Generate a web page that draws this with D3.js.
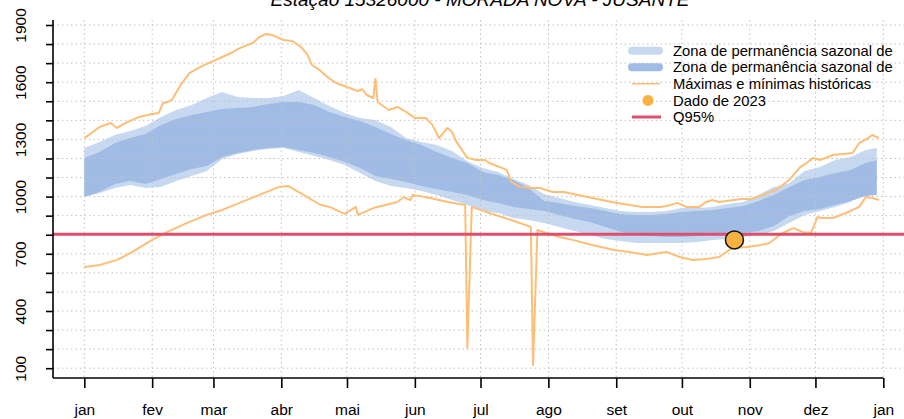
<!DOCTYPE html>
<html lang="pt">
<head>
<meta charset="UTF-8">
<title>Estação 15326000 - MORADA NOVA - JUSANTE</title>
<script src="https://cdn.jsdelivr.net/npm/d3@7"></script>
<style>
  body { margin: 0; background: #fff; }
  svg { display: block; font-family: "Liberation Sans", Arial, sans-serif; }
  .grid line { stroke: #c2c2c2; stroke-dasharray: 1.5,3; stroke-width: 1; }
  .axis path { display: none; }
  .axis line { stroke: #000; stroke-width: 1.6; }
  .axis text { font-size: 15.5px; fill: #000; font-family: "Liberation Sans", Arial, sans-serif; }
</style>
</head>
<body>
<div id="chart"></div>
<script>
// months on the x axis (day of year)
const monthDays = [0, 31, 59, 90, 120, 151, 181, 212, 243, 273, 304, 334, 365];
const monthLabels = ["jan", "fev", "mar", "abr", "mai", "jun", "jul", "ago", "set", "out", "nov", "dez", "jan"];

// y ticks, every 100 but labelled every 300
const yTicks = [100, 200, 300, 400, 500, 600, 700, 800, 900, 1000, 1100, 1200, 1300, 1400, 1500, 1600, 1700, 1800, 1900];
const yLabelled = [100, 400, 700, 1000, 1300, 1600, 1900];

// seasonal permanence bands (m3/s)
const bandDays = [0,7,14,21,28,35,42,49,56,63,70,77,84,91,98,105,112,119,126,133,140,147,154,161,168,175,182,189,196,203,210,217,224,231,238,245,252,259,266,273,280,287,294,301,308,315,322,329,336,343,350,357,362];
const outerHi = [1255,1287,1323,1344,1370,1418,1454,1481,1517,1549,1522,1517,1517,1528,1559,1517,1475,1439,1412,1402,1365,1307,1287,1271,1239,1185,1150,1129,1092,1061,1014,993,972,956,940,925,919,919,925,940,940,946,961,972,1009,1051,1070,1134,1155,1192,1208,1245,1255];
const innerHi = [1203,1234,1281,1307,1328,1376,1407,1428,1444,1460,1465,1470,1486,1496,1496,1481,1444,1418,1397,1365,1328,1297,1271,1234,1203,1176,1129,1113,1087,1045,977,967,951,940,925,909,904,904,909,919,925,930,940,951,977,1009,1051,1087,1103,1124,1140,1176,1192];
const innerLo = [998,1024,1066,1082,1066,1092,1119,1145,1161,1208,1229,1245,1255,1260,1245,1229,1208,1182,1150,1108,1092,1077,1056,1040,1024,1009,982,967,946,935,925,904,883,867,841,815,799,794,788,788,794,799,799,809,820,846,898,925,935,956,977,1003,1009];
const outerLo = [998,1019,1045,1061,1045,1051,1082,1108,1134,1197,1224,1239,1250,1255,1234,1213,1192,1166,1124,1082,1056,1045,1030,1009,982,956,925,914,888,877,862,841,820,799,778,767,757,757,757,757,762,773,778,788,799,820,862,904,925,946,972,1014,1019];

// historical maxima and minima
const maxDays = [0,7,12,15,18,25,31,34,36,38,40,44,48,53,57,62,67,71,77,80,83,86,91,95,99,102,104,108,111,115,120,125,127,129,132,133,134,139,143,147,151,156,159,162,166,168,170,175,179,183,185,193,195,199,204,208,214,219,230,241,249,255,263,266,271,275,281,284,287,290,300,305,310,316,322,327,330,333,336,342,351,354,358,360,363];
const maxVals = [1307,1365,1386,1360,1381,1418,1433,1439,1491,1496,1507,1585,1648,1680,1701,1727,1753,1779,1806,1837,1853,1847,1821,1816,1785,1743,1690,1659,1627,1596,1575,1554,1564,1533,1517,1617,1496,1454,1470,1444,1412,1412,1376,1307,1360,1339,1287,1203,1192,1192,1176,1140,1077,1051,1045,1045,1024,1024,998,972,956,946,946,951,967,946,946,972,982,972,988,988,1009,1035,1087,1155,1176,1203,1192,1218,1229,1281,1307,1323,1307];
const minDays = [0,7,15,22,31,38,47,56,63,71,80,89,93,98,108,112,119,124,125,132,143,146,149,150,158,166,174,175,177,185,195,204,205,207,211,217,223,232,242,249,257,266,272,278,284,290,296,303,309,313,319,324,328,332,335,337,342,348,354,357,360,363];
const minVals = [631,641,668,710,773,815,862,904,930,967,1009,1051,1056,1024,956,946,909,946,904,940,972,998,982,1009,993,972,956,206,946,914,877,841,117,825,809,788,773,746,720,710,694,710,683,668,673,683,731,736,746,757,809,835,815,809,893,888,888,914,946,998,993,982];

// 2023 observation and Q95
const obsDay = 297;
const obsVal = 773;
const q95 = 802;

const legendLabels = ["Zona de permanência sazonal de", "Zona de permanência sazonal de", "Máximas e mínimas históricas", "Dado de 2023", "Q95%"];

const w = 904, h = 419;
const plotLeft = 53, plotBottom = 378, plotTop = 20;
const lightBlue = "#c7d9f1", darkBlue = "#a0bce5", orange = "#fdbe78", red = "#de4f6e", dot = "#f9b13f";

var x = d3.scaleLinear().domain([0, 365]).range([84.3, 883.3]);
var y = d3.scaleLinear().domain([100, 1900]).range([368.2, 25]);

var svg = d3.select("#chart").append("svg")
    .attr("width", w)
    .attr("height", h);
svg.append("rect").attr("width", w).attr("height", h).attr("fill", "#fff");

// title (cut at the top edge, as in the original)
svg.append("text")
    .attr("x", 480)
    .attr("y", 6)
    .attr("text-anchor", "middle")
    .style("font-size", "19px")
    .style("font-style", "italic")
    .text("Estação 15326000 - MORADA NOVA - JUSANTE");

// bands
var bands = bandDays.map(function(d, i) {
  return { day: d, oh: outerHi[i], ih: innerHi[i], il: innerLo[i], ol: outerLo[i] };
});
svg.append("path")
    .datum(bands)
    .attr("fill", lightBlue)
    .attr("d", d3.area().x(d => x(d.day)).y0(d => y(d.ol)).y1(d => y(d.oh)));
svg.append("path")
    .datum(bands)
    .attr("fill", darkBlue)
    .attr("d", d3.area().x(d => x(d.day)).y0(d => y(d.il)).y1(d => y(d.ih)));

// dotted grid
var grid = svg.append("g").attr("class", "grid");
grid.selectAll("line.h")
    .data(yTicks)
    .enter().append("line")
    .attr("class", "h")
    .attr("x1", plotLeft).attr("x2", w)
    .attr("y1", d => y(d)).attr("y2", d => y(d));
grid.selectAll("line.v")
    .data(monthDays)
    .enter().append("line")
    .attr("class", "v")
    .attr("x1", d => x(d)).attr("x2", d => x(d))
    .attr("y1", plotTop).attr("y2", plotBottom);

// max / min lines
var line = d3.line().x(d => x(d[0])).y(d => y(d[1]));
svg.append("path")
    .datum(maxDays.map((d, i) => [d, maxVals[i]]))
    .attr("fill", "none").attr("stroke", orange).attr("stroke-width", 2)
    .attr("stroke-linejoin", "round")
    .attr("d", line);
svg.append("path")
    .datum(minDays.map((d, i) => [d, minVals[i]]))
    .attr("fill", "none").attr("stroke", orange).attr("stroke-width", 2)
    .attr("stroke-linejoin", "round")
    .attr("d", line);

// Q95
svg.append("line")
    .attr("x1", plotLeft).attr("x2", w)
    .attr("y1", y(q95)).attr("y2", y(q95))
    .attr("stroke", red).attr("stroke-width", 3);

// 2023 point
svg.append("circle")
    .attr("cx", x(obsDay)).attr("cy", y(obsVal)).attr("r", 9)
    .attr("fill", dot).attr("stroke", "#111").attr("stroke-width", 1.5);

// axes
var xAxis = svg.append("g")
    .attr("class", "axis")
    .attr("transform", "translate(0," + plotBottom + ")")
    .call(d3.axisBottom(x).tickValues(monthDays).tickSize(10).tickSizeOuter(0)
      .tickFormat((d, i) => monthLabels[i]));
xAxis.selectAll("text").attr("y", 37).attr("dy", 0);
svg.append("line")
    .attr("x1", plotLeft).attr("x2", x(365))
    .attr("y1", plotBottom).attr("y2", plotBottom)
    .attr("stroke", "#000").attr("stroke-width", 1.6);

var yAxis = svg.append("g")
    .attr("class", "axis")
    .attr("transform", "translate(" + plotLeft + ",0)")
    .call(d3.axisLeft(y).tickValues(yTicks).tickSize(7).tickSizeOuter(0)
      .tickFormat(d => yLabelled.indexOf(d) >= 0 ? d : ""));
yAxis.selectAll("text")
    .attr("transform", "rotate(-90)")
    .attr("x", 0).attr("y", -27).attr("dy", 0)
    .attr("text-anchor", "middle");
svg.append("line")
    .attr("x1", plotLeft).attr("x2", plotLeft)
    .attr("y1", plotTop).attr("y2", plotBottom)
    .attr("stroke", "#000").attr("stroke-width", 1.6);

// legend
var legend = svg.append("g").attr("transform", "translate(628,0)");
var rowsY = [50.7, 67.2, 83.7, 100.4, 117];
legend.selectAll("text")
    .data(legendLabels)
    .enter().append("text")
    .attr("x", 45)
    .attr("y", (d, i) => rowsY[i])
    .attr("dy", "0.35em")
    .style("font-size", "14.8px")
    .text(d => d);
legend.append("line").attr("x1", 4).attr("x2", 31).attr("y1", rowsY[0]).attr("y2", rowsY[0])
    .attr("stroke", lightBlue).attr("stroke-width", 8).attr("stroke-linecap", "round");
legend.append("line").attr("x1", 4).attr("x2", 31).attr("y1", rowsY[1]).attr("y2", rowsY[1])
    .attr("stroke", darkBlue).attr("stroke-width", 8).attr("stroke-linecap", "round");
legend.append("line").attr("x1", 4).attr("x2", 32).attr("y1", rowsY[2]).attr("y2", rowsY[2])
    .attr("stroke", orange).attr("stroke-width", 1.5);
legend.append("circle").attr("cx", 20).attr("cy", rowsY[3]).attr("r", 5.5).attr("fill", dot);
legend.append("line").attr("x1", 4).attr("x2", 33).attr("y1", rowsY[4]).attr("y2", rowsY[4])
    .attr("stroke", red).attr("stroke-width", 3);
</script>
</body>
</html>
